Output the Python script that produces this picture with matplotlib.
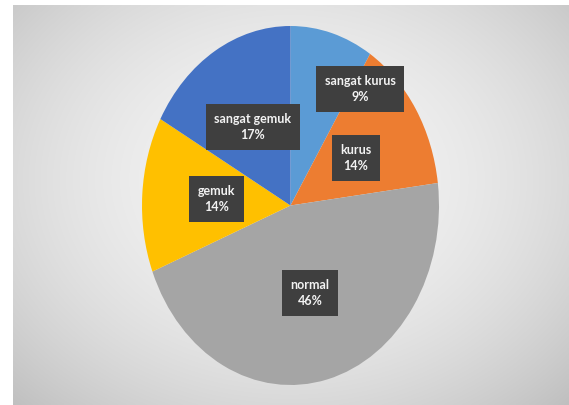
import numpy as np
import matplotlib
matplotlib.use("Agg")
import matplotlib.pyplot as plt

# Nutritional status distribution
categories = ["sangat kurus", "kurus", "normal", "gemuk", "sangat gemuk"]
shares = [9, 14, 46, 14, 17]
colors = ["#5B9BD5", "#ED7D31", "#A5A5A5", "#FFC000", "#4472C4"]

# label anchor points inside the pie (unit-ellipse coordinates)
label_pos = [(0.468, 0.649), (0.441, 0.265), (0.131, -0.487),
             (-0.495, 0.036), (-0.253, 0.437)]

W, H = 569, 405
fig = plt.figure(figsize=(W / 100, H / 100), dpi=100)
fig.patch.set_facecolor("white")

# background panel with soft radial shading
bg = fig.add_axes([0, 0, 1, 1])
bg.axis("off")
x0, x1, y0, y1 = 13, W, 5, H
xx, yy = np.meshgrid(np.linspace(x0, x1, 300), np.linspace(y0, y1, 220))
r = np.sqrt(((xx - 290) / 330) ** 2 + ((yy - 180) / 260) ** 2)
shade = np.clip(0.955 - 0.14 * r ** 2, 0, 1)
bg.imshow(np.dstack([shade, shade, shade]), extent=(x0, x1, y1, y0),
          aspect="auto", interpolation="bilinear")
bg.set_xlim(0, W)
bg.set_ylim(H, 0)

# pie stretched into an ellipse
cx, cy, rx, ry = 290.5, 205.5, 148.5, 179.5
ax = fig.add_axes([(cx - rx) / W, (H - cy - ry) / H, 2 * rx / W, 2 * ry / H])
ax.pie(shares, colors=colors, startangle=90, counterclock=False, radius=1,
       wedgeprops=dict(linewidth=0))
ax.set_aspect("auto")
ax.set_xlim(-1, 1)
ax.set_ylim(-1, 1)
ax.axis("off")

total = sum(shares)
for name, val, (u, v) in zip(categories, shares, label_pos):
    ax.text(u, v, f"{name}\n{round(100 * val / total)}%", ha="center", va="center",
            fontsize=9, fontweight="bold", family=["Lato", "DejaVu Sans"],
            color="#F2F2F2", linespacing=1.4,
            bbox=dict(boxstyle="square,pad=0.7", facecolor="#3F3F3F",
                      edgecolor="none"))

fig.savefig("out.png", dpi=100)
